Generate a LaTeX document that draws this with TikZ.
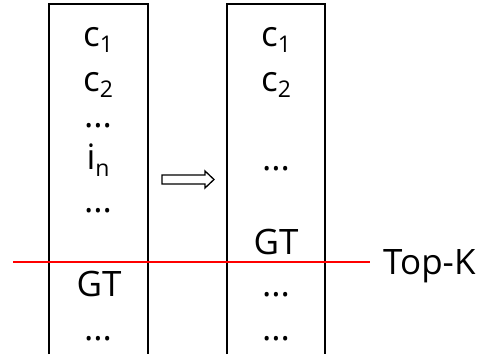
\documentclass[tikz,border=0pt]{standalone}
\usepackage{fontspec}
\setmainfont{Open Sans}

\newcommand{\sub}[1]{\raisebox{-6pt}{\fontsize{23}{23}\selectfont #1}}

\tikzset{
  item/.style={anchor=base, inner sep=0pt, font=\fontsize{35}{35}\selectfont},
  col/.style={line width=1.2pt, black},
}

\begin{document}
\begin{tikzpicture}[x=1pt, y=1pt]
\useasboundingbox (0,0) rectangle (482,354);
% columns
\draw[col] (49,0) |- (148,350) -- (148,0);
\draw[col] (227,0) |- (325,350) -- (325,0);
% left list
\node[item] (lc1) at (98,307) {c\sub{1}};
\node[item] (lc2) at (98,262) {c\sub{2}};
\node[item] (ld1) at (98,226) {...};
\node[item] (lin) at (98,184) {i\sub{n}};
\node[item] (ld2) at (98,142) {...};
\node[item] (lgt) at (99,58) {GT};
\node[item] (ld3) at (98,14) {...};
% right list
\node[item] (rc1) at (276,307) {c\sub{1}};
\node[item] (rc2) at (276,262) {c\sub{2}};
\node[item] (rd1) at (276,183) {...};
\node[item] (rgt) at (276,100) {GT};
\node[item] (rd2) at (276,58) {...};
\node[item] (rd3) at (276,14) {...};
% hollow arrow between
\draw[line width=1.3pt, line join=miter] (162,170) -- (205,170) -- (205,166) -- (214,174.5)
  -- (205,183) -- (205,179) -- (162,179) -- cycle;
% top-k cut
\coordinate (cutl) at (13,92);
\coordinate (cutr) at (370,92);
\draw[red, line width=1.2pt] (cutl) -- (cutr);
\node[item, anchor=base west] (topk) at (383,80) {Top-K};
\end{tikzpicture}
\end{document}
